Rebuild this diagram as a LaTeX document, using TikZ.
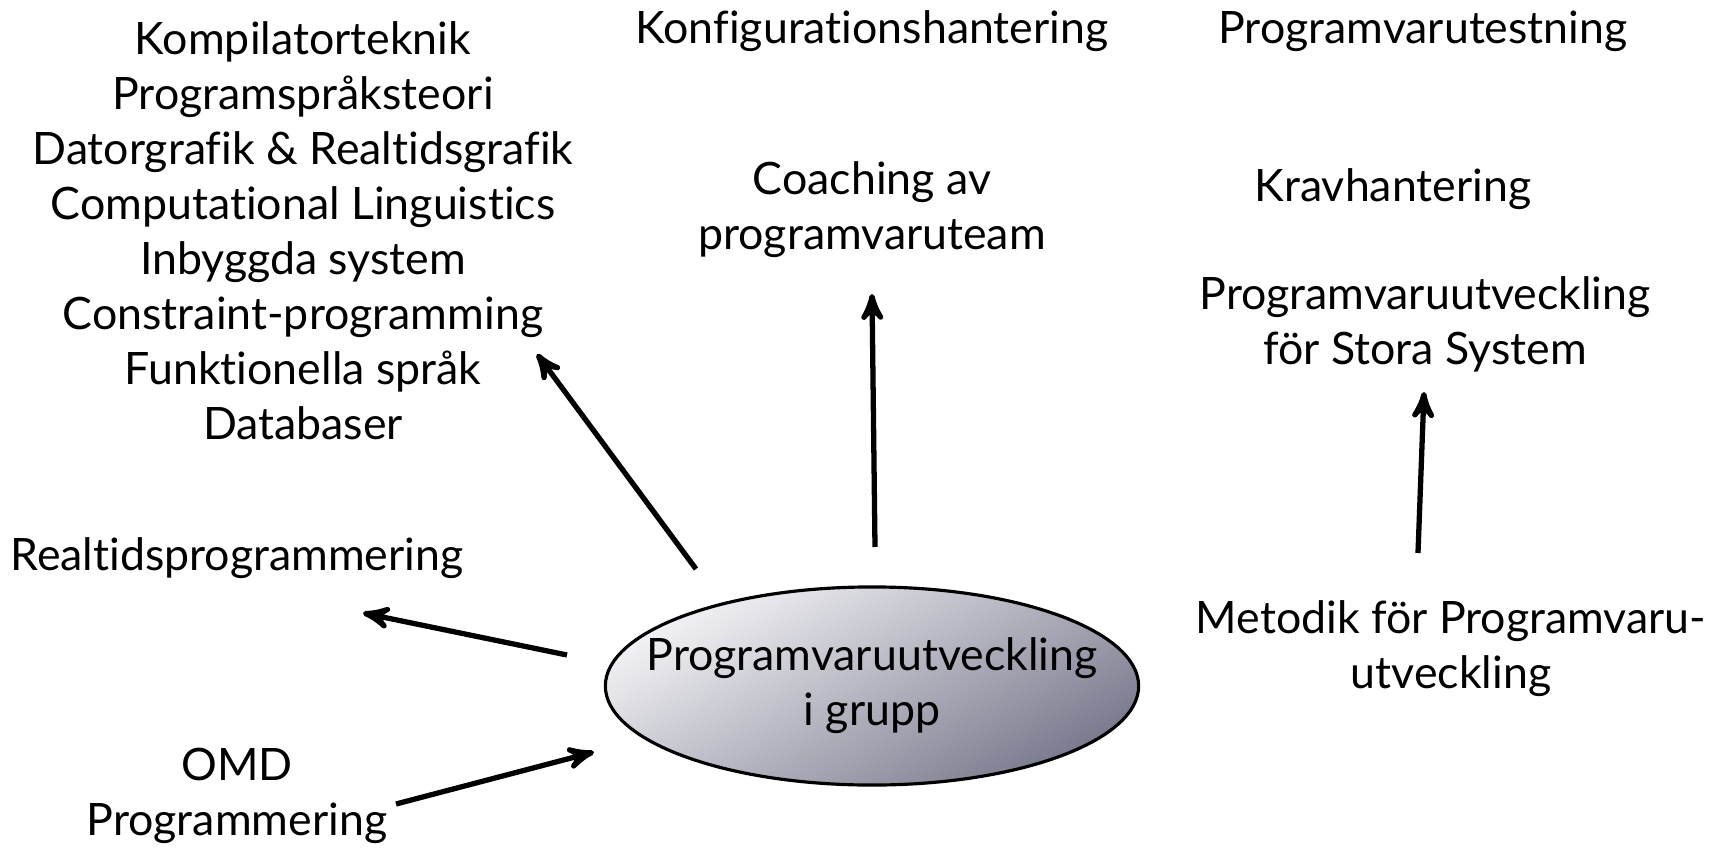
\documentclass[tikz,border=0pt]{standalone}
\usepackage{fontspec}
\setmainfont{Lato}[Ligatures=NoCommon]
\usetikzlibrary{shapes.geometric, arrows}
\definecolor{ovalLight}{RGB}{242,242,245}
\definecolor{ovalDark}{RGB}{122,122,142}
\tikzset{
	course/.style  = {align=center, font=\fontsize{12.7}{15.65}\selectfont, inner sep=2pt},
	central/.style = {course, ellipse, draw=black, line width=0.9pt, inner xsep=-0.37cm, inner ysep=0pt, minimum width=5.33cm, minimum height=1.98cm, top color=ovalLight, bottom color=ovalDark, shading angle=30},
	arrow/.style   = {->, >=stealth', line width=1.5pt}
}

\begin{document}
\begin{tikzpicture}[x=0.01cm, y=0.01cm]
	\useasboundingbox (0,0) rectangle (1726,850);

	\node (grupp)   [central] at (872,164) {Programvaruutveckling\\i grupp};
	\node (valfria) [course]  at (303,619) {Kompilatorteknik\\Programspråksteori\\Datorgrafik \& Realtidsgrafik\\Computational Linguistics\\Inbyggda system\\Constraint-programming\\Funktionella språk\\Databaser};
	\node (konfig)  [course]  at (872,819) {Konfigurationshantering};
	\node (testning)[course]  at (1423,819) {Programvarutestning};
	\node (coach)   [course]  at (872,640) {Coaching av\\programvaruteam};
	\node (krav)    [course]  at (1393,661) {Kravhantering};
	\node (stora)   [course]  at (1425,526) {Programvaruutveckling\\för Stora System};
	\node (realtid) [course]  at (237,292) {Realtidsprogrammering};
	\node (metodik) [course]  at (1451,201) {Metodik för Programvaru-\\utveckling};
	\node (omd)     [course]  at (237,54) {OMD\\Programmering};

	\draw [arrow] ([shift={(-176,117)}]grupp.center) -- ([shift={(234,-123)}]valfria.center);
	\draw [arrow] ([shift={(3,139)}]grupp.center) -- ([shift={(0,-84)}]coach.center);
	\draw [arrow] ([shift={(-33,96)}]metodik.center) -- ([shift={(-1,-68)}]stora.center);
	\draw [arrow] ([shift={(-305,31)}]grupp.center) -- ([shift={(126,-55)}]realtid.center);
	\draw [arrow] ([shift={(159,-8)}]omd.center) -- ([shift={(-278,-66)}]grupp.center);
\end{tikzpicture}
\end{document}
